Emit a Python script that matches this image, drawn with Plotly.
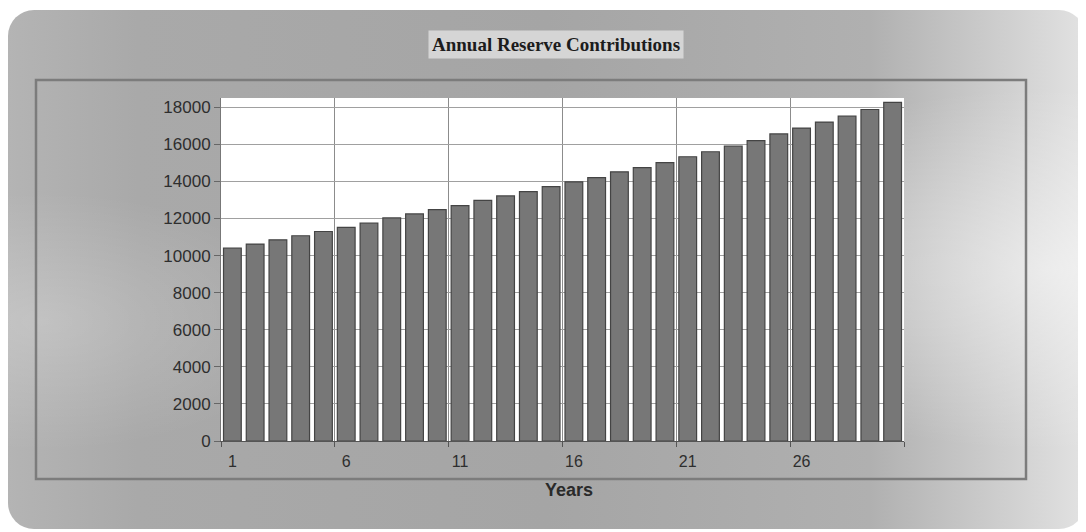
import base64
import plotly.graph_objects as go

# ---- data ----
years = list(range(1, 31))
contributions = [10400, 10620, 10850, 11070, 11300, 11520, 11750, 12030, 12250, 12480,
                 12700, 12980, 13220, 13450, 13720, 13980, 14200, 14520, 14740, 15010,
                 15330, 15600, 15900, 16200, 16560, 16880, 17200, 17520, 17880, 18260]
tick_years = [1, 6, 11, 16, 21, 26]
y_ticks = list(range(0, 18001, 2000))
title_text = "Annual Reserve Contributions"
x_title = "Years"

# ---- geometry (page pixels; the page body has an 8px margin) ----
OFF = 8
W, H = 1086 - OFF, 532 - OFF
L, R, T, B = 221 - OFF, 904 - OFF, 98 - OFF, 441 - OFF


def px(x):
    return (x - OFF - L) / (R - L)


def py(y):
    return (B - (y - OFF)) / (B - T)


svg = f'''<svg xmlns="http://www.w3.org/2000/svg" width="{W}" height="{H}" viewBox="0 0 {W} {H}" preserveAspectRatio="none">
<defs>
<linearGradient id="g1" x1="0" y1="0" x2="1" y2="0">
<stop offset="0" stop-color="#b4b4b4"/>
<stop offset="0.12" stop-color="#a9a9a9"/>
<stop offset="0.5" stop-color="#a5a5a5"/>
<stop offset="0.8" stop-color="#b0b0b0"/>
<stop offset="0.93" stop-color="#d0d0d0"/>
<stop offset="1" stop-color="#e2e2e2"/>
</linearGradient>
<radialGradient id="g2" cx="0.97" cy="0.5" r="0.35">
<stop offset="0" stop-color="#ffffff" stop-opacity="0.5"/>
<stop offset="1" stop-color="#ffffff" stop-opacity="0"/>
</radialGradient>
<radialGradient id="g3" cx="0.03" cy="0.6" r="0.25">
<stop offset="0" stop-color="#ffffff" stop-opacity="0.22"/>
<stop offset="1" stop-color="#ffffff" stop-opacity="0"/>
</radialGradient>
</defs>
<rect x="0" y="0" width="{W}" height="{H}" fill="#ffffff"/>
<rect x="0" y="2" width="{W - 1}" height="{H - 5}" rx="26" ry="26" fill="url(#g1)"/>
<rect x="0" y="2" width="{W - 1}" height="{H - 5}" rx="26" ry="26" fill="url(#g2)"/>
<rect x="0" y="2" width="{W - 1}" height="{H - 5}" rx="26" ry="26" fill="url(#g3)"/>
<rect x="{36 - OFF}" y="{80 - OFF}" width="990" height="399" fill="none" stroke="#7c7c7c" stroke-width="2.5"/>
<rect x="{L}" y="{T}" width="{R - L}" height="{B - T}" fill="#ffffff"/>
</svg>'''
svg_uri = "data:image/svg+xml;base64," + base64.b64encode(svg.encode()).decode()

fig = go.Figure()
fig.add_trace(go.Bar(
    x=years, y=contributions, width=0.78,
    marker=dict(color="#777777", line=dict(color="#444444", width=1.2)),
    hoverinfo="x+y",
))

fig.add_layout_image(dict(
    source=svg_uri, xref="paper", yref="paper",
    x=-L / (R - L), y=B / (B - T), sizex=W / (R - L), sizey=H / (B - T),
    xanchor="left", yanchor="top", sizing="stretch", layer="below",
))

fig.add_annotation(
    text=f"<b>{title_text}</b>", xref="paper", yref="paper",
    x=px(556), y=py(44), xanchor="center", yanchor="middle", showarrow=False,
    font=dict(family="Liberation Serif", size=19, color="#1c1c1c"),
    bgcolor="#d5d5d5", borderpad=3,
)
fig.add_annotation(
    text=f"<b>{x_title}</b>", xref="paper", yref="paper",
    x=px(569), y=py(490), xanchor="center", yanchor="middle", showarrow=False,
    font=dict(family="Liberation Sans", size=18, color="#2a2a2a"),
)

boundaries = [i + 0.5 for i in range(0, 31, 5)]

fig.update_layout(
    width=W, height=H, autosize=False,
    margin=dict(l=L, r=W - R, t=T, b=H - B, pad=0),
    paper_bgcolor="#ffffff", plot_bgcolor="#ffffff",
    showlegend=False, bargap=0.2,
    xaxis=dict(
        range=[0.5, 30.5], tickmode="array", tickvals=tick_years,
        ticktext=[str(v) for v in tick_years], ticks="", showgrid=False,
        showline=True, linecolor="#555555", linewidth=1.2, zeroline=False,
        tickfont=dict(family="Liberation Sans", size=16, color="#2e2e2e"),
        ticklabelstandoff=6,
        minor=dict(tickvals=boundaries, showgrid=True, gridcolor="#8c8c8c",
                   gridwidth=1, ticks="outside", ticklen=5, tickcolor="#555555"),
    ),
    yaxis=dict(
        range=[0, 18500], tickmode="array", tickvals=y_ticks,
        ticktext=[str(v) for v in y_ticks], ticks="outside", ticklen=6,
        tickcolor="#666666", showgrid=True, gridcolor="#a0a0a0", gridwidth=1,
        showline=True, linecolor="#777777", linewidth=1, zeroline=False,
        tickfont=dict(family="Liberation Sans", size=17, color="#2e2e2e"),
    ),
)

fig.write_html("out.html")
